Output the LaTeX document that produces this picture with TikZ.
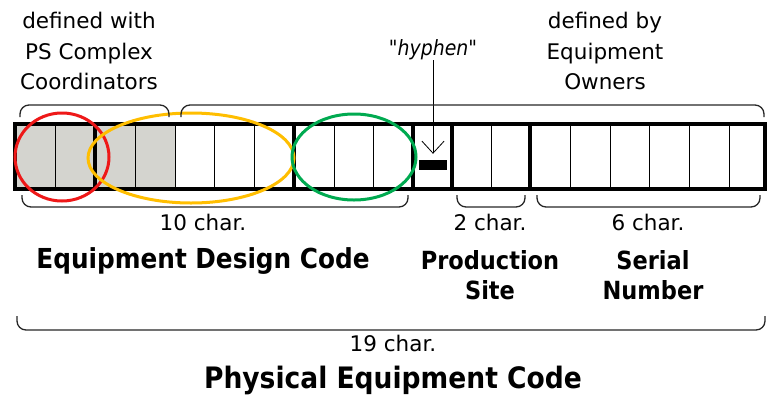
\documentclass[tikz,border=0pt]{standalone}
\usepackage{fontspec}
\setmainfont{DejaVu Sans}
\newfontfamily\condfont{DejaVu Sans Condensed}
\usetikzlibrary{arrows.meta}
\definecolor{cellgrey}{RGB}{212,212,207}
\definecolor{ringred}{RGB}{238,24,24}
\definecolor{ringyellow}{RGB}{255,190,0}
\definecolor{ringgreen}{RGB}{0,170,80}
\begin{document}
\begin{tikzpicture}[x=1pt,y=-1pt,
  lbl/.style={font=\fontsize{21.5}{30.5}\selectfont, align=center, inner sep=0pt},
  title/.style={font=\condfont\bfseries\fontsize{25}{30}\selectfont, align=center, inner sep=0pt},
  brace/.style={line width=1.3pt, rounded corners=9pt, draw=black!85},
  ring/.style={line width=3pt},
  thinsep/.style={line width=0.8pt},
  thicksep/.style={line width=4pt}]
\useasboundingbox (0,0) rectangle (767,397);
% cells
\fill[cellgrey] (15,124) rectangle (175,189);
\foreach \x in {55,135,175,214,254,334,373,491,570,610,649,689,729}
  \draw[thinsep] (\x,124) -- (\x,189);
\foreach \x in {15,95,294,413,452,530,765}
  \draw[thicksep] (\x,124) -- (\x,189);
\draw[thicksep] (13,124) -- (767,124);
\draw[thicksep] (13,189) -- (767,189);
% hyphen
\node[fill=black, minimum width=28pt, minimum height=10pt, inner sep=0pt] (hyph) at (433,165) {};
\node[inner sep=0pt, font=\condfont\itshape\fontsize{21}{30}\selectfont] (hyphlbl) at (433,50) {\symbol{34}hyphen\symbol{34}};
\draw[-{Straight Barb[length=12pt,width=22pt]}, line width=0.8pt, shorten >=6pt] (hyphlbl.south) -- (hyph.north);
% rings
\draw[ring, ringred] (62,157) ellipse [x radius=47, y radius=44];
\draw[ring, ringyellow] (191,158) ellipse [x radius=103, y radius=45];
\draw[ring, ringgreen] (354,157) ellipse [x radius=62, y radius=43];
% braces
\draw[brace] (20,117) -- (20,105) -- (169,105) -- (169,117);
\draw[brace] (181,117) -- (181,105) -- (764,105) -- (764,117);
\draw[brace] (22,195) -- (22,207) -- (408,207) -- (408,195);
\draw[brace] (457,195) -- (457,207) -- (525,207) -- (525,195);
\draw[brace] (537,195) -- (537,207) -- (760,207) -- (760,195);
\draw[brace] (17,316) -- (17,330) -- (765,330) -- (765,316);
% labels
\node[lbl] (psc) at (89,51) {defined with\\PS Complex\\Coordinators};
\node[lbl] (owners) at (605,51) {defined by\\Equipment\\Owners};
\node[lbl] (n10) at (203,222) {10 char.};
\node[lbl] (n2) at (490,222) {2 char.};
\node[lbl] (n6) at (648,222) {6 char.};
\node[title, font=\condfont\bfseries\fontsize{27.5}{30}\selectfont] (edc) at (203,261) {Equipment Design Code};
\node[title] (ps) at (490,275) {Production\\Site};
\node[title] (sn) at (653,275) {Serial\\Number};
\node[lbl] (n19) at (393,343) {19 char.};
\node[title, font=\condfont\bfseries\fontsize{29.5}{30}\selectfont] (pec) at (393,380) {Physical Equipment Code};
\end{tikzpicture}
\end{document}
